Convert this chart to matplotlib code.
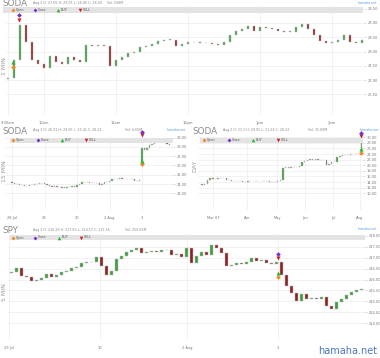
import matplotlib
matplotlib.use('Agg')
import matplotlib.pyplot as plt
from matplotlib.patches import Rectangle
from matplotlib.lines import Line2D
import numpy as np

W, H = 380, 358
DPI = 100

# ---------------- data ----------------
# Panel 1: SODA 1 MIN (sampled every 5 minutes from 9:30am)
p1_open0 = 27.05
p1_close = [27.08, 27.70, 28.93, 28.33, 27.70, 27.56, 27.42, 27.85, 27.63, 27.56,
            27.81, 27.70, 27.63, 28.23, 28.20, 28.23, 28.20, 27.50, 27.70, 27.81,
            27.95, 27.98, 28.16, 28.20, 28.27, 28.37, 28.41, 28.41, 28.20, 28.27,
            28.33, 28.33, 28.30, 28.30, 28.27, 28.23, 28.33, 28.58, 28.72, 28.79,
            28.90, 28.72, 28.86, 28.83, 28.79, 28.72, 28.69, 28.69, 28.86, 28.97,
            28.79, 28.58, 28.37, 28.30, 28.33, 28.41, 28.58, 28.33, 28.30, 28.40]
p1_xtick_pos = [0, 6, 18, 30, 42, 54]
p1_xtick_lab = ['9:30am', '10am', '11am', '12pm', '1pm', '2pm']
p1_yticks = [26.5, 27.0, 27.5, 28.0, 28.5, 29.0, 29.5]
p1_buy = (0.8, 27.62); p1_open_sig = (0.8, 27.45)
p1_sell = (1.8, 29.12); p1_close_sig = (1.8, 29.27)

# Panel 2: SODA 15 MIN
p2_open0 = 24.20
p2_close = [24.15, 24.05, 23.95, 23.90, 23.85, 23.82, 23.80, 23.85, 23.90, 24.00, 24.05, 24.08, 24.08,
            24.05, 23.90, 23.75, 23.70, 23.78, 23.72, 23.65, 23.60, 23.62, 23.70, 23.72, 23.75, 23.72,
            23.90, 24.05, 24.20, 24.22, 24.18, 24.15, 24.12, 24.15, 24.10, 23.85, 24.00, 24.20, 24.22,
            24.30, 24.50, 24.55, 24.58, 24.60, 24.58, 24.55, 24.57, 24.55, 24.50, 24.38, 24.35, 24.40,
            27.86, 27.70, 27.90, 28.20, 28.30, 28.50, 28.60, 28.80, 28.55, 28.60, 28.30, 28.22]
p2_gap_opens = {52: 26.01}
p2_xtick_pos = [0, 13, 26, 39, 52]
p2_xtick_lab = ['28 Jul', '29', '30', '2 Aug', '3']
p2_yticks = [23, 24, 25, 26, 27, 28, 29]
p2_buy = (52, 26.50); p2_open_sig = (52, 26.13)
p2_sell = (52, 29.30); p2_close_sig = (52, 29.65)

# Panel 3: SODA DAY
p3_open0 = 13.20
p3_close = [13.1, 13.4, 14.8, 15.3, 15.0, 15.1, 15.3, 15.6, 15.3, 14.8,
            14.7, 14.5, 14.4, 14.5, 14.3, 13.9, 13.9, 14.2, 14.4, 14.4,
            14.3, 14.4, 14.3, 14.4, 14.3, 14.0, 13.9, 14.0, 14.4, 14.8,
            18.9, 19.2, 19.0, 19.3, 19.4, 19.3, 19.6, 21.2, 21.6, 22.0,
            22.2, 21.9, 22.1, 21.8, 22.0, 21.7, 20.2, 20.6, 21.0, 21.2,
            23.0, 23.4, 23.6, 23.8, 23.7, 23.9, 24.0, 23.9, 24.0, 28.22]
p3_xtick_pos = [4.1, 16.7, 27.8, 38.1, 48.5, 58.5]
p3_xtick_lab = ['Mar 07', 'Apr', 'May', 'Jun', 'Jul', 'Aug']
p3_yticks = list(range(10, 31, 2))
p3_buy = (59, 25.8); p3_open_sig = (59, 24.5)
p3_sell = (59, 30.6); p3_close_sig = (59, 31.4)

# Panel 4: SPY 5 MIN
p4_open0 = 216.30
p4_close = [216.36, 216.55, 216.15, 216.10, 215.92, 216.00, 216.08, 216.25, 216.12, 216.20,
            216.36, 216.40, 216.55, 216.58, 216.75, 216.80, 216.82, 217.05, 216.60, 216.20,
            216.40, 216.95, 217.10, 217.28, 217.35, 217.46, 217.20, 217.25, 217.30, 217.28,
            217.35, 217.36, 217.15, 217.18, 217.05, 217.45, 216.75, 217.10, 217.28, 217.15,
            217.60, 217.45, 217.20, 216.60, 216.65, 216.75, 216.70, 216.80, 217.00, 216.85,
            216.90, 216.78, 216.72, 216.80, 216.20, 215.70, 215.40, 215.02, 215.35, 215.10,
            215.15, 215.10, 215.20, 214.80, 214.65, 214.95, 215.10, 215.30, 215.45, 215.50,
            215.57]
p4_xtick_pos = [-0.6, 17.7, 35.1, 53.3]
p4_xtick_lab = ['29 Jul', '30', '2 Aug', '3']
p4_yticks = [214.0, 214.5, 215.0, 215.5, 216.0, 216.5, 217.0, 217.5, 218.0]
p4_buy = (53.3, 216.29); p4_open_sig = (53.3, 216.10)
p4_sell = (53.3, 216.98); p4_close_sig = (53.3, 217.16)

# ---------------- styling ----------------
UP = '#3f9c3f'
DN = '#8c2222'
GRID = '#e9e9e9'
TXT = '#777777'
STRIP = '#e3e3e3'
C_OPEN = '#f08a1c'
C_CLOSE = '#7b2fc9'
C_BUY = '#2fb52f'
C_SELL = '#d42020'

fig = plt.figure(figsize=(W / DPI, H / DPI), dpi=DPI)
fig.patch.set_facecolor('white')


def fx(x):
    return x / W


def fy(y):
    return 1 - y / H


def ax_at(x0, y0, x1, y1):
    return fig.add_axes([fx(x0), fy(y1), (x1 - x0) / W, (y1 - y0) / H])


def build_opens(open0, closes, gaps=None):
    opens = [open0] + list(closes[:-1])
    if gaps:
        for k, v in gaps.items():
            opens[k] = v
    return opens


def candles(ax, opens, closes, width):
    o = np.array(opens, dtype=float)
    c = np.array(closes, dtype=float)
    xs = np.arange(len(c))
    up = c >= o
    hgt = c - o
    span = ax.get_ylim()[1] - ax.get_ylim()[0]
    hgt = np.where(np.abs(hgt) < span * 0.004, np.where(up, 1, -1) * span * 0.004, hgt)
    cols = np.where(up, UP, DN)
    ax.bar(xs, hgt, bottom=o, width=width, color=cols, edgecolor='#bdbdbd',
           linewidth=0.35, zorder=3)


def style(ax, xlim, ylim, yticks, xtick_pos, xtick_lab, yfmt='{:.2f}'):
    ax.set_xlim(*xlim)
    ax.set_ylim(*ylim)
    for s in ax.spines.values():
        s.set_visible(False)
    ax.yaxis.tick_right()
    ax.set_yticks(yticks)
    ax.set_yticklabels([yfmt.format(v) for v in yticks])
    ax.set_xticks(xtick_pos)
    ax.set_xticklabels(xtick_lab)
    ax.tick_params(axis='y', labelsize=2.6, colors='#bbbbbb', labelcolor=TXT,
                   length=1.5, width=0.4, pad=1)
    ax.tick_params(axis='x', labelsize=2.6, colors='#bbbbbb', labelcolor=TXT,
                   length=0, pad=4)
    ax.grid(True, color=GRID, linewidth=0.4, zorder=0)
    ax.set_axisbelow(True)
    ax.patch.set_alpha(0)


def signals(ax, buy, open_sig, sell, close_sig):
    ax.plot(*open_sig, marker='D', color=C_OPEN, markersize=2.4, clip_on=False, zorder=6, mec='none')
    ax.plot(*buy, marker='^', color=C_BUY, markersize=3.0, clip_on=False, zorder=6, mec='none')
    ax.plot(*sell, marker='v', color=C_SELL, markersize=3.0, clip_on=False, zorder=6, mec='none')
    ax.plot(*close_sig, marker='D', color=C_CLOSE, markersize=2.4, clip_on=False, zorder=6, mec='none')


def header(x, y, ticker, info, vol, vol_x, strip, leg_x, side_label, side_xy, brand_x):
    sx0, sy0, sx1, sy1 = strip
    fig.patches.append(Rectangle((fx(sx0), fy(sy1)), (sx1 - sx0) / W, (sy1 - sy0) / H,
                                 transform=fig.transFigure, facecolor=STRIP,
                                 edgecolor='none', zorder=0))
    fig.text(fx(x), fy(y), ticker, fontsize=6.3, color='#8a8a8a', va='top', ha='left')
    fig.text(fx(x + 31), fy(y + 1.5), info, fontsize=2.3, color='#888888', va='top', ha='left')
    fig.text(fx(vol_x), fy(y + 1.5), vol, fontsize=2.3, color='#888888', va='top', ha='left')
    fig.text(fx(brand_x), fy(y + 1), 'hamaha.net', fontsize=2.3, color='#5c9ee0', va='top', ha='left')
    ymid = (sy0 + sy1) / 2
    items = [('D', C_OPEN, 'Open', 2.0), ('D', C_CLOSE, 'Close', 2.0),
             ('^', C_BUY, 'BUY', 2.6), ('v', C_SELL, 'SELL', 2.6)]
    for lx, (m, col, lab, ms) in zip(leg_x, items):
        fig.add_artist(Line2D([fx(lx)], [fy(ymid)], marker=m, color=col, markersize=ms,
                              mec='none', transform=fig.transFigure))
        fig.text(fx(lx + 3), fy(ymid), lab, fontsize=2.3, color='#555555', va='center', ha='left')
    fig.text(fx(side_xy[0]), fy(side_xy[1]), side_label, fontsize=4.5, color='#9a9a9a',
             rotation=90, va='center', ha='center')


# ---------------- Panel 1 ----------------
ax1 = ax_at(6, 6, 364, 115)
style(ax1, (-0.33, 59.33), (25.78, 29.595), p1_yticks, p1_xtick_pos, p1_xtick_lab)
candles(ax1, build_opens(p1_open0, p1_close), p1_close, 0.45)
signals(ax1, p1_buy, p1_open_sig, p1_sell, p1_close_sig)
header(2, -0.5, 'SODA', 'Aug 2 O: 27.05 H: 29.05 L: 26.86 C: 28.40', 'Vol: 508M', 107,
       (3, 7, 363, 13), [13, 35, 58, 80], '1 MIN', (5, 66), 358)

# ---------------- Panel 2 ----------------
ax2 = ax_at(5, 136, 173, 210)
style(ax2, (-2.8, 64.4), (21.2, 29.18), p2_yticks, p2_xtick_pos, p2_xtick_lab)
candles(ax2, build_opens(p2_open0, p2_close, p2_gap_opens), p2_close, 0.55)
signals(ax2, p2_buy, p2_open_sig, p2_sell, p2_close_sig)
header(2, 126.5, 'SODA', 'Aug 2 O: 26.01 H: 29.05 L: 23.41 C: 28.22', 'Vol: 4.65M', 125,
       (10, 138, 173, 142.5), [13, 38, 62, 86], '15 MIN', (5, 171), 167)

# ---------------- Panel 3 ----------------
ax3 = ax_at(198, 136, 363, 210)
style(ax3, (-1.48, 59.6), (4.0, 30.46), p3_yticks, p3_xtick_pos, p3_xtick_lab)
candles(ax3, build_opens(p3_open0, p3_close), p3_close, 0.55)
signals(ax3, p3_buy, p3_open_sig, p3_sell, p3_close_sig)
header(192, 126.5, 'SODA', 'Aug 2 O: 13.2 H: 29.05 L: 11.66 C: 28.22', 'Vol: 35.89M', 308,
       (200, 138, 363, 142.5), [204, 229, 253, 278], 'DAY', (195, 166), 360)

# ---------------- Panel 4 ----------------
ax4 = ax_at(8, 234, 365, 340)
style(ax4, (-0.73, 70.67), (213.23, 218.09), p4_yticks, p4_xtick_pos, p4_xtick_lab)
candles(ax4, build_opens(p4_open0, p4_close), p4_close, 0.5)
signals(ax4, p4_buy, p4_open_sig, p4_sell, p4_close_sig)
header(2, 226.5, 'SPY', 'Aug 2 O: 216.29 H: 217.65 L: 214.57 C: 215.56', 'Vol: 259.05M', 125,
       (10, 235, 365, 240), [13, 35, 59, 81], '5 MIN', (5, 292), 358)

fig.text(fx(377), fy(356), 'hamaha.net', fontsize=7, color='#4a78c8', ha='right', va='bottom')

fig.savefig('out.png', dpi=DPI, facecolor='white')
